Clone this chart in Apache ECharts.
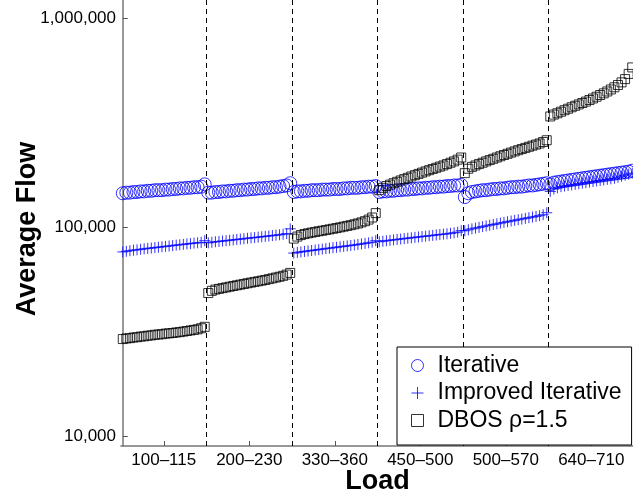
<!DOCTYPE html>
<html>
<head>
<meta charset="utf-8">
<script src="https://cdn.jsdelivr.net/npm/echarts@6/dist/echarts.min.js"></script>
<style>
  html, body { margin: 0; padding: 0; background: #fff; }
  #main { width: 633px; height: 492px; }
</style>
</head>
<body>
<div id="main"></div>
<script>
// load groups shown on the x axis
const loadGroups = ['100–115', '200–230', '330–360', '450–500', '500–570', '640–710'];
const perGroup = 24;

// average flow, in thousands
const iterativeK = [
  145, 146, 146, 147, 147, 148, 148, 149, 149, 150, 150, 150, 151, 151, 152, 152, 153, 153, 154, 154, 155, 155, 156, 160,
  146, 146, 147, 147, 148, 148, 149, 149, 150, 150, 151, 151, 152, 152, 153, 153, 154, 154, 155, 155, 156, 157, 158, 162,
  147, 148, 148, 149, 149, 150, 150, 150, 151, 151, 151, 152, 152, 152, 153, 153, 154, 154, 154, 155, 155, 156, 156, 157,
  147, 148, 148, 149, 149, 150, 150, 151, 151, 152, 152, 153, 153, 154, 154, 155, 155, 156, 156, 157, 157, 158, 158, 159,
  139, 145, 147, 148, 149, 150, 150, 151, 152, 152, 153, 153, 154, 155, 155, 156, 156, 157, 158, 158, 159, 160, 161, 162,
  160, 163, 164, 165, 166, 167, 168, 169, 170, 171, 172, 173, 174, 175, 176, 177, 178, 179, 180, 181, 182, 183, 184, 186
];
const improvedK = [
  76, 76.5, 77, 77.5, 77.8, 78.2, 78.6, 79, 79.3, 79.7, 80, 80.4, 80.8, 81.1, 81.5, 81.9, 82.2, 82.6, 83, 83.3, 83.7, 84, 84.4, 86,
  84, 84.5, 85, 85.3, 85.7, 86, 86.4, 86.8, 87.2, 87.5, 87.9, 88.3, 88.7, 89, 89.4, 89.8, 90.2, 90.6, 91, 91.4, 91.8, 92.3, 93, 98,
  75, 75.6, 76, 76.4, 76.8, 77.2, 77.6, 78, 78.4, 78.8, 79.2, 79.6, 80, 80.4, 80.8, 81.2, 81.6, 82, 82.5, 83, 83.5, 84, 84.6, 86,
  85, 85.5, 86, 86.4, 86.8, 87.2, 87.6, 88, 88.4, 88.8, 89.2, 89.6, 90, 90.4, 90.8, 91.2, 91.6, 92, 92.4, 92.8, 93.3, 93.8, 94.5, 96,
  96, 97, 98, 98.8, 99.6, 100.4, 101.2, 102, 102.8, 103.6, 104.4, 105.2, 106, 106.8, 107.6, 108.4, 109.2, 110, 110.8, 111.6, 112.4, 113.3, 114.5, 117,
  148, 152, 154, 156, 157, 158, 159, 160, 161, 162, 163, 164, 165, 166, 167, 168, 169, 170, 171, 173, 175, 177, 179, 181
];
const dbosK = [
  29.1, 29.3, 29.4, 29.6, 29.7, 29.9, 30, 30.2, 30.3, 30.5, 30.6, 30.7, 30.9, 31, 31.1, 31.3, 31.4, 31.6, 31.8, 32, 32.2, 32.4, 32.8, 33.3,
  48.3, 49.5, 50.2, 50.6, 51, 51.4, 51.8, 52.2, 52.6, 53, 53.4, 53.8, 54.2, 54.6, 55, 55.4, 55.8, 56.3, 56.8, 57.3, 57.8, 58.4, 59.2, 60.3,
  88, 90, 91.5, 92.5, 93.3, 94, 94.7, 95.4, 96, 96.7, 97.4, 98.1, 98.8, 99.6, 100.4, 101.2, 102, 103, 104, 105.2, 106.6, 108.5, 111, 116.5,
  150, 154, 157, 159.5, 162, 164.5, 167, 169.5, 172, 174.5, 177, 179.5, 182, 184.5, 187, 189.5, 192, 194.5, 197, 200, 203, 206, 210, 215,
  181, 190, 194, 197, 200, 203, 206, 209, 212, 215, 218, 221, 224, 227, 230, 233, 236, 239, 242, 245, 248, 251, 255, 260,
  338, 345, 350, 356, 362, 368, 374, 380, 386, 392, 398, 405, 412, 420, 428, 436, 445, 455, 466, 478, 492, 510, 540, 580
];
const yTicks = [10000, 100000, 1000000];

// x positions: point index, groups side by side
const toPoints = arr => arr.map((v, i) => [i, v * 1000]);
const centers = loadGroups.map((g, i) => i * perGroup + (perGroup - 1) / 2);
const bounds = loadGroups.slice(1).map((g, i) => (i + 1) * perGroup - 0.5);

const chart = echarts.init(document.getElementById('main'));
const font = 'Liberation Sans, Arial, sans-serif';

chart.setOption({
  animation: false,
  grid: { left: 121, right: -1, top: 0, bottom: 46, outerBoundsMode: 'none' },
  legend: {
    orient: 'vertical',
    left: 397,
    top: 347,
    z: 10,
    padding: [7, 10, 13, 12],
    itemWidth: 12,
    itemHeight: 12,
    itemGap: 4.5,
    backgroundColor: '#fff',
    borderColor: '#000',
    borderWidth: 1,
    borderRadius: 0,
    textStyle: { fontFamily: font, fontSize: 23, color: '#000', padding: [0, 0, 0, 9] },
    data: [
      { name: 'Iterative', icon: 'circle', itemStyle: { color: 'none', borderColor: '#0000ff', borderWidth: 1 } },
      { name: 'Improved Iterative', icon: 'path://M0,5L10,5M5,0L5,10', itemStyle: { color: 'none', borderColor: '#0000ff', borderWidth: 1 } },
      { name: 'DBOS ρ=1.5', icon: 'rect', itemStyle: { color: 'none', borderColor: '#000', borderWidth: 1 } }
    ]
  },
  xAxis: {
    type: 'value',
    min: -0.5,
    max: loadGroups.length * perGroup - 0.5,
    name: 'Load',
    nameLocation: 'middle',
    nameGap: 22,
    nameMoveOverlap: false,
    nameTextStyle: { fontFamily: font, fontSize: 27, fontWeight: 'bold', color: '#000' },
    splitLine: { show: false },
    axisLine: { lineStyle: { color: '#777', width: 1.5 } },
    axisTick: { inside: true, length: 5, customValues: centers.concat(bounds), lineStyle: { color: '#555' } },
    axisLabel: {
      customValues: centers,
      margin: 6,
      fontFamily: font,
      fontSize: 17,
      color: '#000',
      formatter: v => loadGroups[Math.round((v - (perGroup - 1) / 2) / perGroup)]
    }
  },
  yAxis: {
    type: 'log',
    logBase: 10,
    min: 8959,
    max: 1219000,
    name: 'Average Flow',
    nameLocation: 'middle',
    nameGap: 80,
    nameMoveOverlap: false,
    nameTextStyle: { fontFamily: font, fontSize: 27, fontWeight: 'bold', color: '#000', padding: [0, 12, 0, 0] },
    splitLine: { show: false },
    axisLine: { show: true, lineStyle: { color: '#777', width: 1.5 } },
    axisTick: { inside: true, length: 5, customValues: yTicks, lineStyle: { color: '#555' } },
    axisLabel: {
      customValues: yTicks,
      margin: 5,
      fontFamily: font,
      fontSize: 17,
      color: '#000',
      formatter: v => Number(v).toLocaleString('en-US')
    }
  },
  series: [
    {
      name: 'Iterative',
      type: 'scatter',
      symbol: 'circle',
      symbolSize: 13,
      itemStyle: { color: 'none', borderColor: '#0000ff', borderWidth: 1 },
      data: toPoints(iterativeK),
      markLine: {
        silent: true,
        symbol: ['none', 'none'],
        label: { show: false },
        lineStyle: { type: [5, 4], color: '#000', width: 1 },
        data: bounds.map(b => ({ xAxis: b }))
      }
    },
    {
      name: 'Improved Iterative',
      type: 'scatter',
      symbol: 'path://M0,5L10,5M5,0L5,10',
      symbolSize: 11,
      itemStyle: { color: 'none', borderColor: '#0000ff', borderWidth: 1 },
      data: toPoints(improvedK)
    },
    {
      name: 'DBOS ρ=1.5',
      type: 'scatter',
      symbol: 'rect',
      symbolSize: 9,
      itemStyle: { color: 'none', borderColor: '#000', borderWidth: 1 },
      data: toPoints(dbosK)
    }
  ]
});
</script>
</body>
</html>
